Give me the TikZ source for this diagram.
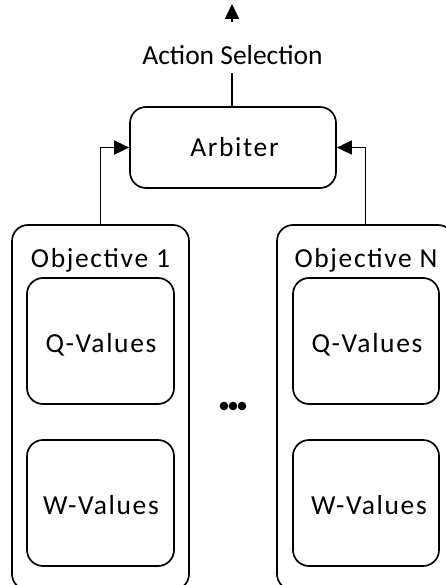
\documentclass[tikz,border=0pt]{standalone}
\usepackage{fontspec}
\setmainfont{Carlito}
\newfontfamily\boxfont{Carlito}[LetterSpace=6]
\usetikzlibrary{arrows.meta}
\begin{document}
\begin{tikzpicture}[x=1pt,y=-1pt,
  every node/.style={font=\boxfont\fontsize{27.5}{32}\selectfont},
  box/.style={draw, line width=1.7pt, rounded corners=16pt, inner sep=0pt},
  conn/.style={line width=1.7pt},
  tipped/.style={conn, -{Triangle[length=15pt,width=14pt]}}]
  \useasboundingbox (0,0) rectangle (446,585);
  \clip (0,0) rectangle (446,585);

  % arbiter and its output
  \node[box, minimum width=206pt, minimum height=81pt] (arb) at (233,147.5) {};
  \node[anchor=base] (arbtxt) at (234.5,157) {Arbiter};
  \coordinate (tip) at (232,4);
  \draw[tipped] (arb.north -| tip) -- (tip);
  \node[font=\rmfamily\fontsize{27.5}{32}\selectfont, fill=white, inner sep=0pt,
    text height=42pt, text depth=9pt, anchor=base]
    (sel) at (232.5,64.3) {Action Selection};

  % objective 1
  \node[box, minimum width=177pt, minimum height=365pt] (obj1) at (100.5,407.5) {};
  \node[anchor=base] (lab1) at (100.5,267.5) {Objective 1};
  \node[box, minimum width=147pt, minimum height=126pt] (q1) at (100.5,341) {};
  \node[anchor=base] (q1txt) at (101,352.5) {Q-Values};
  \node[box, minimum width=147pt, minimum height=126pt] (w1) at (100.5,503) {};
  \node[anchor=base] (w1txt) at (101,514) {W-Values};

  % objective N
  \node[box, minimum width=177pt, minimum height=365pt] (objN) at (365.5,407.5) {};
  \node[anchor=base] (labN) at (366,267.5) {Objective N};
  \node[box, minimum width=146pt, minimum height=126pt] (qN) at (366,341) {};
  \node[anchor=base] (qNtxt) at (367,352.5) {Q-Values};
  \node[box, minimum width=146pt, minimum height=126pt] (wN) at (366,503) {};
  \node[anchor=base] (wNtxt) at (369,514) {W-Values};

  % objectives feed the arbiter
  \draw[tipped] (obj1.north) |- (arb.west);
  \draw[tipped] (objN.north) |- (arb.east);

  % ellipsis between objectives
  \foreach \cx in {224,233,242}
    \fill (\cx,406) circle (4.3pt);
\end{tikzpicture}
\end{document}
